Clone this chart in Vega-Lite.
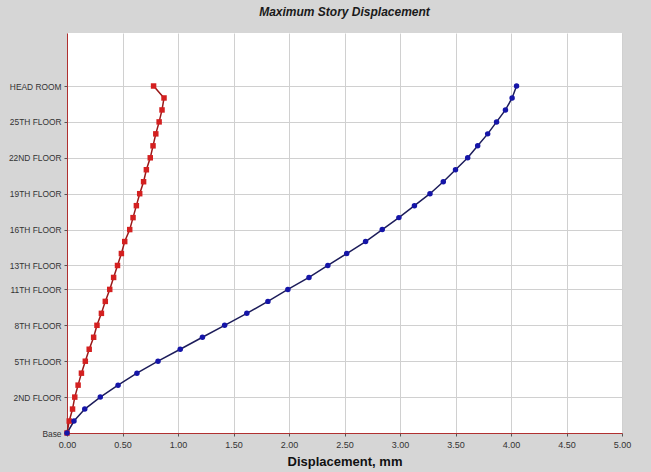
{
  "$schema": "https://vega.github.io/schema/vega-lite/v6.json",
  "width": 555,
  "height": 400,
  "autosize": {"type": "none"},
  "padding": {"left": 67, "top": 33, "right": 29, "bottom": 39},
  "background": "#d6d6d6",
  "title": {
    "text": "Maximum Story Displacement",
    "font": "Liberation Sans",
    "fontSize": 12,
    "fontStyle": "italic",
    "fontWeight": "bold",
    "color": "#1a1a1a",
    "baseline": "alphabetic",
    "offset": 5,
    "anchor": "middle"
  },
  "config": {
    "view": {"stroke": null, "fill": "white"},
    "axis": {
      "labelFont": "Liberation Sans",
      "labelFontSize": 9,
      "labelColor": "#333333",
      "domainColor": "#b03030",
      "domainWidth": 1,
      "tickColor": "#555555",
      "tickSize": 3,
      "gridColor": "#d0d0d0",
      "gridWidth": 1
    }
  },
  "data": {
    "values": [
      {"series": "Dir 1", "level": 0, "disp": 0},
      {"series": "Dir 1", "level": 1, "disp": 0.02},
      {"series": "Dir 1", "level": 2, "disp": 0.05},
      {"series": "Dir 1", "level": 3, "disp": 0.07},
      {"series": "Dir 1", "level": 4, "disp": 0.10},
      {"series": "Dir 1", "level": 5, "disp": 0.13},
      {"series": "Dir 1", "level": 6, "disp": 0.165},
      {"series": "Dir 1", "level": 7, "disp": 0.20},
      {"series": "Dir 1", "level": 8, "disp": 0.24},
      {"series": "Dir 1", "level": 9, "disp": 0.27},
      {"series": "Dir 1", "level": 10, "disp": 0.31},
      {"series": "Dir 1", "level": 11, "disp": 0.345},
      {"series": "Dir 1", "level": 12, "disp": 0.385},
      {"series": "Dir 1", "level": 13, "disp": 0.42},
      {"series": "Dir 1", "level": 14, "disp": 0.455},
      {"series": "Dir 1", "level": 15, "disp": 0.49},
      {"series": "Dir 1", "level": 16, "disp": 0.52},
      {"series": "Dir 1", "level": 17, "disp": 0.565},
      {"series": "Dir 1", "level": 18, "disp": 0.595},
      {"series": "Dir 1", "level": 19, "disp": 0.625},
      {"series": "Dir 1", "level": 20, "disp": 0.655},
      {"series": "Dir 1", "level": 21, "disp": 0.69},
      {"series": "Dir 1", "level": 22, "disp": 0.715},
      {"series": "Dir 1", "level": 23, "disp": 0.75},
      {"series": "Dir 1", "level": 24, "disp": 0.775},
      {"series": "Dir 1", "level": 25, "disp": 0.80},
      {"series": "Dir 1", "level": 26, "disp": 0.83},
      {"series": "Dir 1", "level": 27, "disp": 0.856},
      {"series": "Dir 1", "level": 28, "disp": 0.874},
      {"series": "Dir 1", "level": 29, "disp": 0.78},
      {"series": "Dir 2", "level": 0, "disp": 0},
      {"series": "Dir 2", "level": 1, "disp": 0.063},
      {"series": "Dir 2", "level": 2, "disp": 0.16},
      {"series": "Dir 2", "level": 3, "disp": 0.30},
      {"series": "Dir 2", "level": 4, "disp": 0.46},
      {"series": "Dir 2", "level": 5, "disp": 0.63},
      {"series": "Dir 2", "level": 6, "disp": 0.82},
      {"series": "Dir 2", "level": 7, "disp": 1.02},
      {"series": "Dir 2", "level": 8, "disp": 1.22},
      {"series": "Dir 2", "level": 9, "disp": 1.42},
      {"series": "Dir 2", "level": 10, "disp": 1.62},
      {"series": "Dir 2", "level": 11, "disp": 1.81},
      {"series": "Dir 2", "level": 12, "disp": 1.99},
      {"series": "Dir 2", "level": 13, "disp": 2.18},
      {"series": "Dir 2", "level": 14, "disp": 2.35},
      {"series": "Dir 2", "level": 15, "disp": 2.52},
      {"series": "Dir 2", "level": 16, "disp": 2.69},
      {"series": "Dir 2", "level": 17, "disp": 2.84},
      {"series": "Dir 2", "level": 18, "disp": 2.99},
      {"series": "Dir 2", "level": 19, "disp": 3.13},
      {"series": "Dir 2", "level": 20, "disp": 3.27},
      {"series": "Dir 2", "level": 21, "disp": 3.39},
      {"series": "Dir 2", "level": 22, "disp": 3.50},
      {"series": "Dir 2", "level": 23, "disp": 3.61},
      {"series": "Dir 2", "level": 24, "disp": 3.70},
      {"series": "Dir 2", "level": 25, "disp": 3.79},
      {"series": "Dir 2", "level": 26, "disp": 3.87},
      {"series": "Dir 2", "level": 27, "disp": 3.95},
      {"series": "Dir 2", "level": 28, "disp": 4.01},
      {"series": "Dir 2", "level": 29, "disp": 4.05}
    ]
  },
  "encoding": {
    "x": {
      "field": "disp",
      "type": "quantitative",
      "scale": {"domain": [0, 5], "nice": false, "zero": false},
      "axis": {
        "values": [0, 0.5, 1, 1.5, 2, 2.5, 3, 3.5, 4, 4.5, 5],
        "format": ".2f",
        "title": "Displacement, mm",
        "titleFont": "Liberation Sans",
        "titleFontSize": 13,
        "titleFontWeight": "bold",
        "titleColor": "#111111",
        "titlePadding": 6,
        "labelPadding": 4,
        "labelFlush": false
      }
    },
    "y": {
      "field": "level",
      "type": "quantitative",
      "scale": {"domain": [0, 33.43], "nice": false, "zero": false},
      "axis": {
        "values": [0, 3, 6, 9, 12, 14, 17, 20, 23, 26, 29],
        "labelExpr": "{'0':'Base','3':'2ND FLOOR','6':'5TH FLOOR','9':'8TH FLOOR','12':'11TH FLOOR','14':'13TH FLOOR','17':'16TH FLOOR','20':'19TH FLOOR','23':'22ND FLOOR','26':'25TH FLOOR','29':'HEAD ROOM'}[datum.value + '']",
        "title": null,
        "labelFontSize": 8.4,
        "labelPadding": 3,
        "labelFlush": false
      }
    },
    "order": {"field": "level", "type": "quantitative"}
  },
  "layer": [
    {
      "mark": {"type": "line", "strokeWidth": 1.5},
      "encoding": {
        "color": {
          "field": "series",
          "type": "nominal",
          "scale": {"domain": ["Dir 1", "Dir 2"], "range": ["#9a1818", "#1c1c5a"]},
          "legend": null
        }
      }
    },
    {
      "mark": {"type": "point", "filled": true, "opacity": 1},
      "encoding": {
        "color": {
          "field": "series",
          "type": "nominal",
          "scale": {"domain": ["Dir 1", "Dir 2"], "range": ["#d42020", "#1515a8"]},
          "legend": null
        },
        "shape": {
          "field": "series",
          "type": "nominal",
          "scale": {"domain": ["Dir 1", "Dir 2"], "range": ["square", "circle"]},
          "legend": null
        },
        "size": {"value": 30}
      }
    }
  ],
  "resolve": {"scale": {"color": "independent"}}
}
